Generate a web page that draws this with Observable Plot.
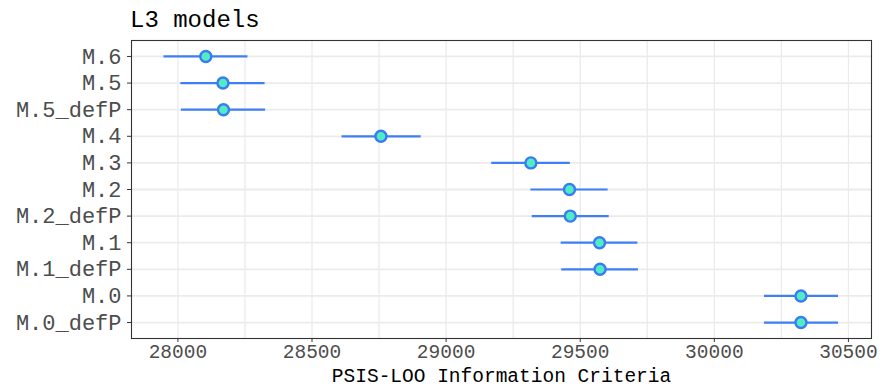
<!DOCTYPE html>
<html>
<head>
<meta charset="utf-8">
<script src="https://cdn.jsdelivr.net/npm/d3@7"></script>
<script src="https://cdn.jsdelivr.net/npm/@observablehq/plot@0.6"></script>
<style>
  html, body { margin: 0; padding: 0; background: #fff; }
  #wrap { width: 882px; height: 387px; position: relative; font-family: "Liberation Mono", "Courier New", monospace; }
  #title { height: 32px; position: relative; }
  #title span { position: absolute; left: 130px; top: 7px; font-size: 24px; line-height: 27px; color: #000; }
  svg { display: block; }
</style>
</head>
<body>
<div id="wrap">
  <div id="title"><span>L3 models</span></div>
  <div id="chart"></div>
</div>
<script>
const models = ["M.6", "M.5", "M.5_defP", "M.4", "M.3", "M.2", "M.2_defP", "M.1", "M.1_defP", "M.0", "M.0_defP"];
const estimate = [28104, 28168, 28170, 28757, 29316, 29460, 29463, 29572, 29574, 30323, 30323];
const lower = [27948, 28011, 28013, 28612, 29170, 29316, 29321, 29429, 29431, 30187, 30187];
const upper = [28261, 28325, 28327, 28907, 29463, 29604, 29608, 29715, 29717, 30463, 30463];
const xTicks = [28000, 28500, 29000, 29500, 30000, 30500];
const xGrid = [28000, 28250, 28500, 28750, 29000, 29250, 29500, 29750, 30000, 30250, 30500];

const data = models.map((m, i) => ({model: m, est: estimate[i], lo: lower[i], hi: upper[i]}));

const chart = Plot.plot({
  width: 882,
  height: 355,
  marginLeft: 131,
  marginRight: 11,
  marginTop: 8,
  marginBottom: 49,
  style: {fontFamily: '"Liberation Mono", "Courier New", monospace', background: "#fff"},
  x: {domain: [27827, 30586], label: null},
  y: {type: "point", domain: models, padding: 0.6, round: false, label: null},
  marks: [
    Plot.ruleX(xGrid, {stroke: "#ebebeb", strokeWidth: 1.3}),
    Plot.ruleY(models, {y: d => d, stroke: "#ebebeb", strokeWidth: 1.8}),
    Plot.ruleY(data, {y: "model", x1: "lo", x2: "hi", stroke: "#3f7ef5", strokeWidth: 2.2}),
    Plot.dot(data, {x: "est", y: "model", r: 5.5, fill: "#52ecc4", stroke: "#3a7bf2", strokeWidth: 2.4}),
    Plot.frame({stroke: "#333", strokeWidth: 1.1}),
    Plot.axisX({ticks: xTicks, tickFormat: d => String(d), tickSize: 4, tickPadding: 2, fontSize: 19.5, color: "#4d4d4d", stroke: "#333", label: null}),
    Plot.axisY({tickSize: 4, tickPadding: 6, fontSize: 22, color: "#4d4d4d", stroke: "#333", label: null}),
    Plot.text(["PSIS-LOO Information Criteria"], {frameAnchor: "bottom", dy: 43, fontSize: 19.5, fill: "#000", text: d => d, lineAnchor: "bottom"})
  ]
});
document.getElementById("chart").appendChild(chart);
</script>
</body>
</html>
